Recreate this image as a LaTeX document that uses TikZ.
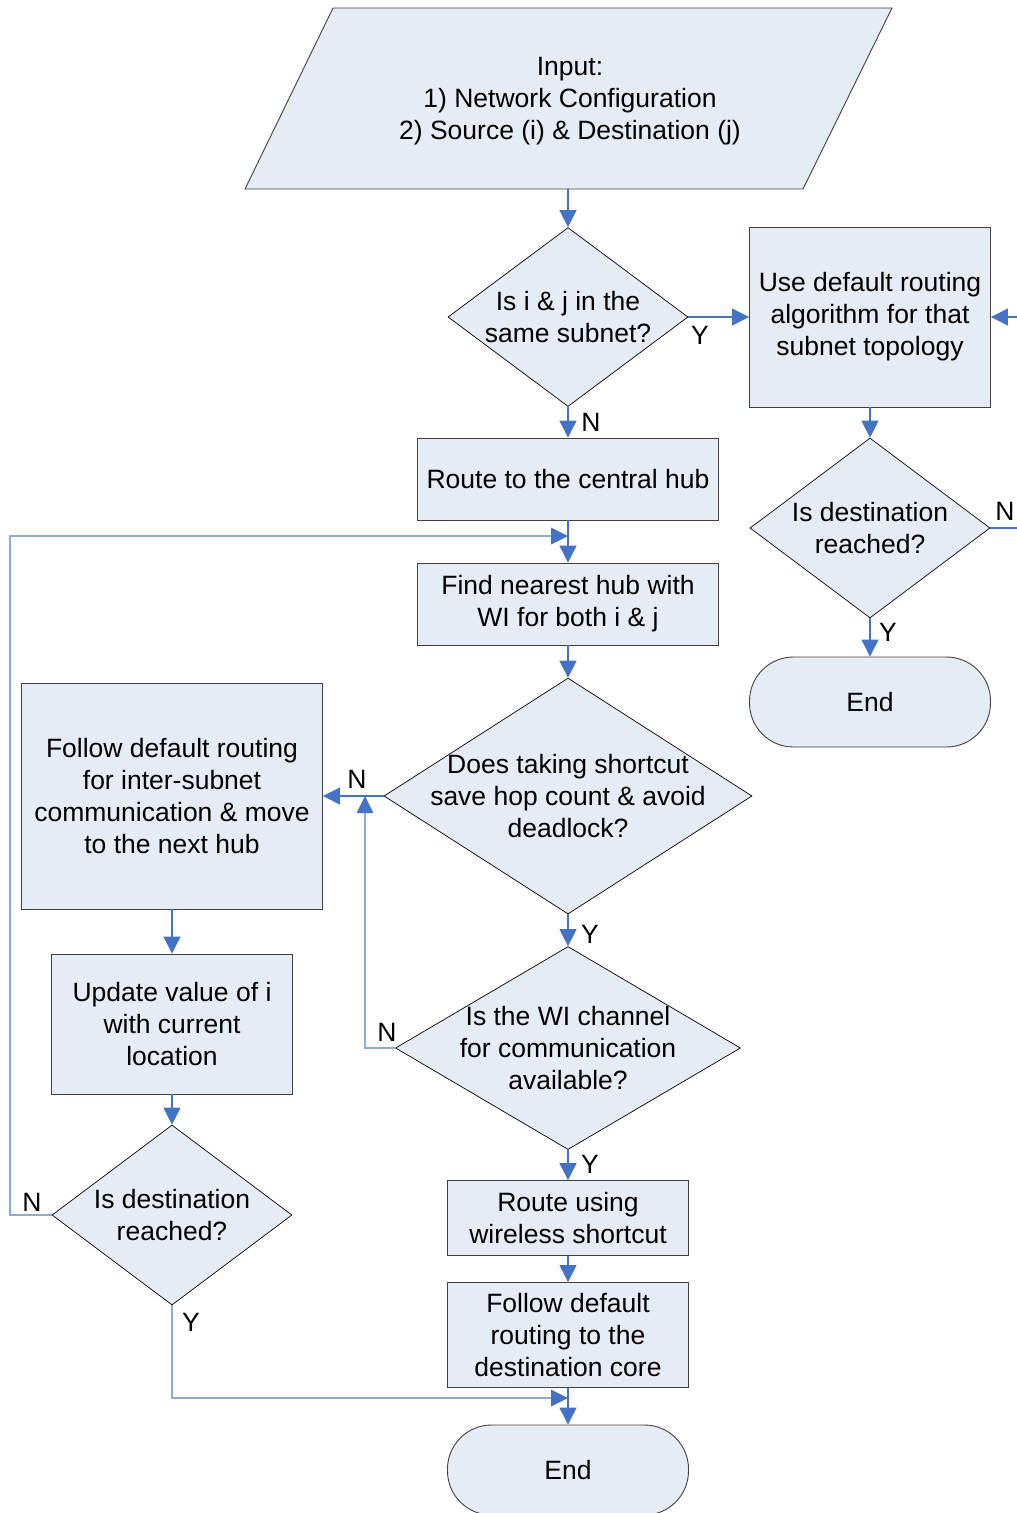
\documentclass[tikz,border=0pt]{standalone}
\usepackage{fontspec}
\setmainfont{Liberation Sans}
\usetikzlibrary{shapes.geometric,arrows.meta}
\definecolor{boxfill}{RGB}{230,236,246}
\definecolor{flow}{RGB}{68,114,196}
\definecolor{loopline}{RGB}{142,170,219}
\definecolor{edge}{RGB}{64,64,64}
\tikzset{
  every node/.style={font=\fontsize{26.5}{32}\selectfont, text=black},
  proc/.style={draw=edge, line width=0.9pt, fill=boxfill, rectangle, inner sep=0pt, align=center},
  dia/.style={draw=black, line width=0.7pt, fill=boxfill, diamond, inner sep=0pt},
  term/.style={draw=edge, line width=0.9pt, fill=boxfill, rectangle, rounded corners=44pt, inner sep=0pt, align=center},
  txt/.style={align=center, inner sep=0pt},
  lbl/.style={inner sep=0pt},
  arr/.style={draw=flow, line width=1.1pt, -{Triangle[length=17pt,width=17pt]}},
  ln/.style={draw=flow, line width=1.1pt},
  looparr/.style={draw=loopline, line width=1.6pt, -{Triangle[length=17pt,width=17pt,color=flow,line width=0pt]}},
}
\begin{document}
\begin{tikzpicture}[x=1pt,y=-1pt]
\useasboundingbox (0,0) rectangle (1017,1513);

% input parallelogram
\path[draw=edge, line width=0.9pt, fill=boxfill] (333,8) -- (892,8) -- (803,189) -- (245,189) -- cycle;
\coordinate (inbot) at (568,189);
\node[txt] (input) at (570,101) {Input:\\1) Network Configuration\\2) Source (i) \& Destination (j)};

% decisions
\node[dia, minimum width=240pt, minimum height=179pt] (d1) at (568,317) {};
\node[txt] (d1t) at (d1) {Is i \& j in the\\same subnet?};
\node[dia, minimum width=240pt, minimum height=180pt] (d2) at (870,528) {};
\node[txt] (d2t) at (d2) {Is destination\\reached?};
\node[dia, minimum width=368pt, minimum height=236pt] (d3) at (568,796) {};
\node[txt] (d3t) at (d3) {Does taking shortcut\\save hop count \& avoid\\deadlock?};
\node[dia, minimum width=345pt, minimum height=203pt] (d4) at (568,1048) {};
\node[txt] (d4t) at (d4) {Is the WI channel\\for communication\\available?};
\node[dia, minimum width=240pt, minimum height=180pt] (d5) at (172,1215) {};
\node[txt] (d5t) at (d5) {Is destination\\reached?};

% processes
\node[proc, minimum width=241pt, minimum height=180pt] (p1) at (870,317) {Use default routing\\algorithm for that\\subnet topology};
\node[proc, minimum width=301pt, minimum height=82pt] (p2) at (568,479) {Route to the central hub};
\node[proc, minimum width=301pt, minimum height=82pt] (p3) at (568,604) {Find nearest hub with\\WI for both i \& j};
\node[proc, minimum width=301pt, minimum height=226pt] (p4) at (172,796) {Follow default routing\\for inter-subnet\\communication \& move\\to the next hub};
\node[proc, minimum width=241pt, minimum height=140pt] (p5) at (172,1024) {Update value of i\\with current\\location};
\node[proc, minimum width=241pt, minimum height=75pt] (p6) at (568,1218) {Route using\\wireless shortcut};
\node[proc, minimum width=241pt, minimum height=105pt] (p7) at (568,1335) {Follow default\\routing to the\\destination core};

% terminals
\node[term, minimum width=241pt, minimum height=90pt] (e1) at (870,702) {End};
\node[term, minimum width=241pt, minimum height=90pt] (e2) at (568,1470) {End};

% off-page stubs on the right
\coordinate (rin) at (1017,317);
\coordinate (rout) at (1017,528);

% main flow
\draw[arr] (inbot) -- (d1.north);
\draw[arr] (d1.east) -- (p1.west);
\node[lbl] (y1) at (700,335) {Y};
\draw[arr] (rin) -- (p1.east);
\draw[arr] (p1.south) -- (d2.north);
\draw[ln] (d2.east) -- (rout);
\node[lbl] (n2) at (1005,511) {N};
\draw[arr] (d2.south) -- (e1.north);
\node[lbl] (y2) at (888,632) {Y};
\draw[arr] (d1.south) -- (p2.north);
\node[lbl] (n1) at (591,422) {N};
\draw[arr] (p2.south) -- (p3.north);
\draw[arr] (p3.south) -- (d3.north);
\draw[arr] (d3.west) -- (p4.east);
\node[lbl] (n3) at (357,779) {N};
\draw[arr] (d3.south) -- (d4.north);
\node[lbl] (y3) at (590,934) {Y};
\draw[arr] (p4.south) -- (p5.north);
\draw[arr] (p5.south) -- (d5.north);
\draw[arr] (d4.south) -- (p6.north);
\node[lbl] (y4) at (590,1164) {Y};
\draw[arr] (p6.south) -- (p7.north);
\draw[arr] (p7.south) -- (e2.north);

% loops back
\coordinate (jn1) at (568,536);
\draw[looparr] (d5.west) -- (10,1215) -- (10,536) -- (jn1);
\node[lbl] (n5) at (32,1202) {N};
\coordinate (jn2) at (365,796);
\draw[looparr] (d4.west) -- (365,1048) -- (jn2);
\node[lbl] (n4) at (387,1032) {N};
\coordinate (jn3) at (568,1398);
\draw[looparr] (d5.south) -- (172,1398) -- (jn3);
\node[lbl] (y5) at (191,1322) {Y};
\end{tikzpicture}
\end{document}
